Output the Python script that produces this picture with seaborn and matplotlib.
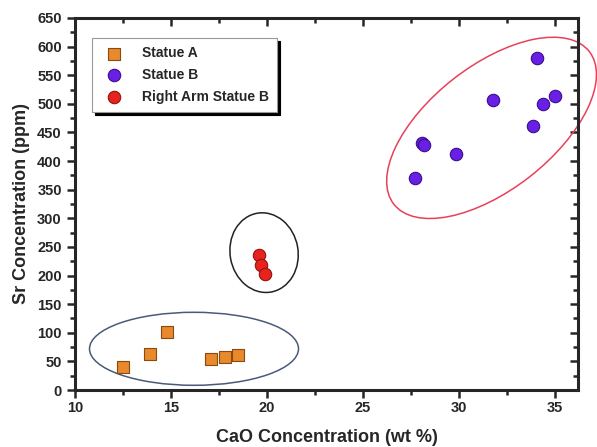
import numpy as np
import pandas as pd
import seaborn as sns
import matplotlib.pyplot as plt
from matplotlib.patches import Ellipse
from matplotlib.transforms import Affine2D
from matplotlib.ticker import MultipleLocator

# data
cao_a = [12.5, 13.9, 14.8, 17.1, 17.8, 18.5]
sr_a = [40, 63, 102, 54, 57, 61]

cao_b = [27.7, 28.1, 28.2, 29.85, 31.8, 33.85, 34.05, 34.4, 35.0]
sr_b = [370, 432, 428, 413, 507, 462, 580, 500, 513]

cao_arm = [19.6, 19.7, 19.9]
sr_arm = [236, 219, 202]

groups = ["Statue A", "Statue B", "Right Arm Statue B"]

df = pd.concat([
    pd.DataFrame({"CaO": cao_a, "Sr": sr_a, "grupo": groups[0]}),
    pd.DataFrame({"CaO": cao_b, "Sr": sr_b, "grupo": groups[1]}),
    pd.DataFrame({"CaO": cao_arm, "Sr": sr_arm, "grupo": groups[2]}),
])

sns.set_style("ticks")
plt.rcParams["font.family"] = ["Liberation Sans", "DejaVu Sans"]

fig = plt.figure(figsize=(5.97, 4.47), dpi=100)
ax = fig.add_axes([0.1256, 0.1275, 0.8425, 0.8323])

colores = {groups[0]: "#E8892C", groups[1]: "#6A1FE6", groups[2]: "#E8231E"}
bordes = {groups[0]: "#8A4A12", groups[1]: "#3A0E8A", groups[2]: "#8E1410"}
marcadores = {groups[0]: "s", groups[1]: "o", groups[2]: "o"}

for g in groups:
    sns.scatterplot(data=df[df["grupo"] == g], x="CaO", y="Sr", ax=ax,
                    color=colores[g], marker=marcadores[g], s=80,
                    edgecolor=bordes[g], linewidth=0.8, label=g, zorder=3)

ax.set_xlim(10, 36.2)
ax.set_ylim(0, 650)
ax.xaxis.set_major_locator(MultipleLocator(5))
ax.xaxis.set_minor_locator(MultipleLocator(2.5))
ax.yaxis.set_major_locator(MultipleLocator(50))
ax.yaxis.set_minor_locator(MultipleLocator(25))
ax.tick_params(which="both", top=True, right=True, width=1.8, labelsize=10.5)
ax.tick_params(which="major", length=6)
ax.tick_params(which="minor", length=3.5)
ax.tick_params(axis="x", which="both", direction="out", pad=2)
ax.tick_params(axis="y", which="both", direction="out")
for t in ax.xaxis.get_major_ticks() + ax.xaxis.get_minor_ticks():
    t.tick2line.set_marker(3)
for t in ax.yaxis.get_major_ticks() + ax.yaxis.get_minor_ticks():
    t.tick2line.set_marker(0)
for sp in ax.spines.values():
    sp.set_linewidth(2.2)
for lab in ax.get_xticklabels() + ax.get_yticklabels():
    lab.set_fontweight("bold")

ax.set_xlabel("CaO Concentration (wt %)", fontsize=13, fontweight="bold", labelpad=10)
ax.set_ylabel("Sr Concentration (ppm)", fontsize=13, fontweight="bold", labelpad=5)

# ellipses drawn in pixel units around data centres
ux = (36.2 - 10) / (0.8425 * 597)
uy = 650 / (0.8323 * 447)


def elipse(cx, cy, ancho, alto, angulo, color):
    e = Ellipse((0, 0), ancho, alto, angle=angulo, fill=False, edgecolor=color,
                linewidth=1.1, clip_on=False, zorder=2)
    e.set_transform(Affine2D().scale(ux, uy).translate(cx, cy) + ax.transData)
    ax.add_patch(e)


elipse(16.2, 72, 209, 73, 0, "#4A5A7A")
elipse(19.85, 240, 68, 80, 10, "#222222")
elipse(31.7, 458, 248, 124, 38, "#E8405A")

leg = ax.legend(loc="upper left", bbox_to_anchor=(0.034, 0.946), frameon=True,
                fancybox=False, shadow={"color": "black", "alpha": 1},
                prop={"weight": "bold", "size": 10}, handletextpad=1.0,
                borderpad=0.6, labelspacing=0.55, borderaxespad=0)
leg.get_frame().set_edgecolor("#999999")
leg.get_frame().set_linewidth(0.8)

fig.savefig("out.png", dpi=100)
